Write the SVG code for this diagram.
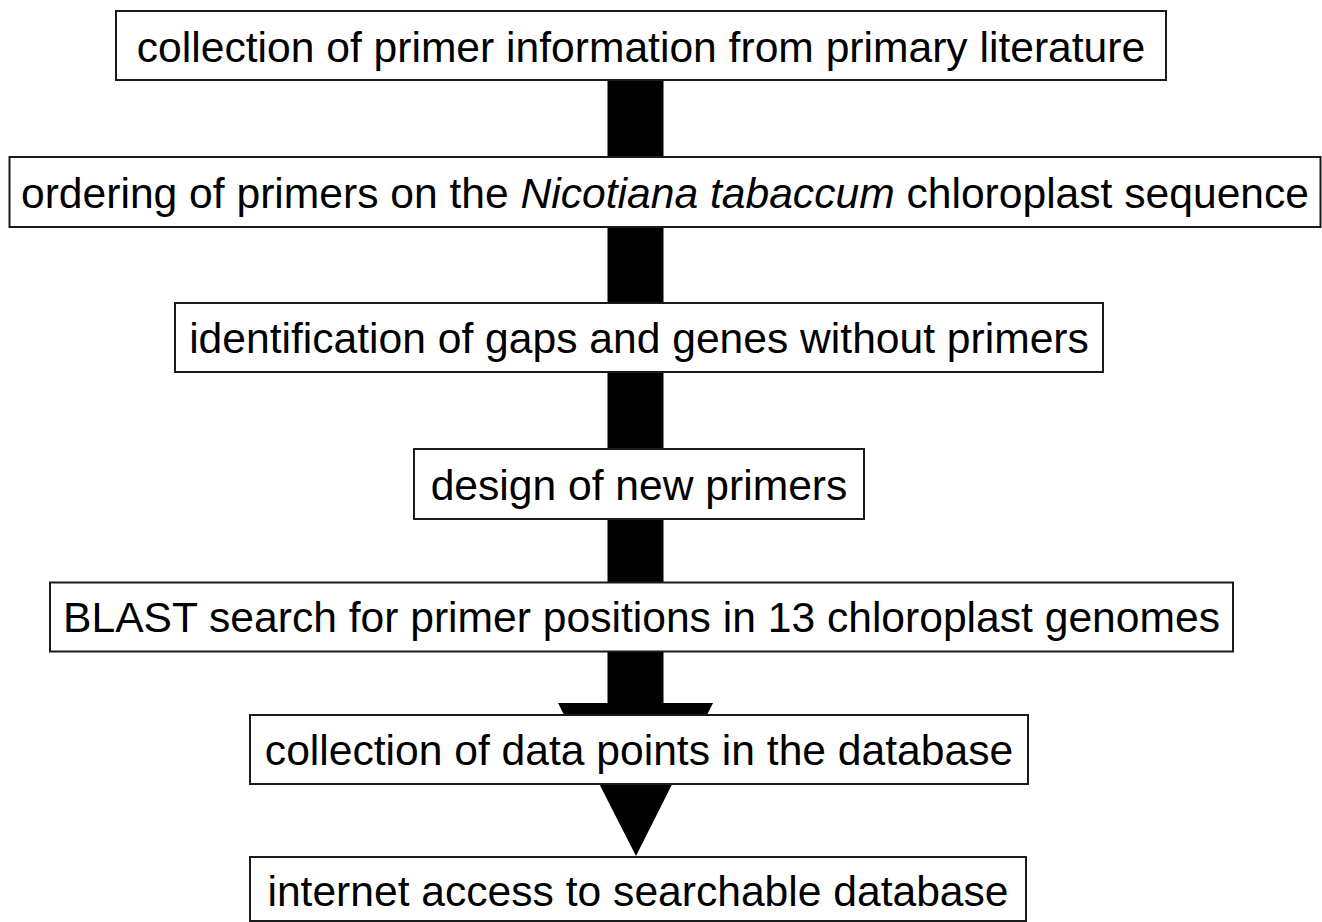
<svg xmlns="http://www.w3.org/2000/svg" width="1322" height="922" viewBox="0 0 1322 922">
<style>
.box{fill:#fff;stroke:#1a1a1a;stroke-width:2}
.t{font-family:"Liberation Sans",Arial,sans-serif;font-size:42.6px;fill:#000;text-anchor:middle}
.arrow{fill:#000;stroke:none}
</style>
<rect width="1322" height="922" fill="#fff"/>
<g id="connectors">
<rect class="arrow" x="607.5" y="80" width="56" height="624"/>
<polygon class="arrow" points="558,703 713,703 636,856"/>
</g>
<g id="n1">
<rect class="box" x="116" y="11" width="1050" height="69"/>
<text class="t" x="641" y="62">collection of primer information from primary literature</text>
</g>
<g id="n2">
<rect class="box" x="9.5" y="157" width="1311" height="70"/>
<text class="t" x="665" y="208">ordering of primers on the <tspan font-style="italic">Nicotiana tabaccum</tspan> chloroplast sequence</text>
</g>
<g id="n3">
<rect class="box" x="175" y="303" width="928" height="69"/>
<text class="t" x="639" y="353">identification of gaps and genes without primers</text>
</g>
<g id="n4">
<rect class="box" x="414" y="449" width="450" height="70"/>
<text class="t" x="639" y="500">design of new primers</text>
</g>
<g id="n5">
<rect class="box" x="50" y="582.5" width="1183" height="69"/>
<text class="t" x="641.5" y="632">BLAST search for primer positions in 13 chloroplast genomes</text>
</g>
<g id="n6">
<rect class="box" x="250" y="715" width="778" height="69"/>
<text class="t" x="639" y="765">collection of data points in the database</text>
</g>
<g id="n7">
<rect class="box" x="250" y="857" width="776" height="64"/>
<text class="t" x="638" y="906">internet access to searchable database</text>
</g>
</svg>
